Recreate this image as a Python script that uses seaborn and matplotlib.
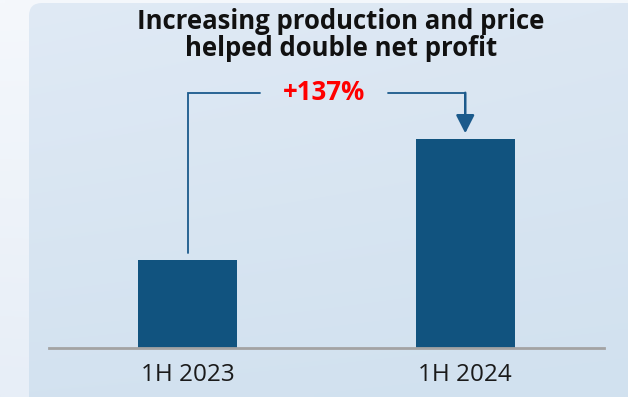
import numpy as np
import pandas as pd
import seaborn as sns
import matplotlib.pyplot as plt
from matplotlib.patches import FancyBboxPatch
from matplotlib.colors import to_rgb

# Net profit, indexed to 1H 2023 = 100
periods = ["1H 2023", "1H 2024"]
net_profit = [100, 237]
change_label = "+137%"
title = "Increasing production and price\nhelped double net profit"

BAR_COLOR = "#11537F"
LINE_COLOR = "#1B5A8C"

sns.set_theme(style="white")
plt.rcParams["font.family"] = ["Open Sans", "DejaVu Sans"]

W, H = 628, 397
fig = plt.figure(figsize=(W / 100, H / 100), dpi=100)


def gradient(c_tl, c_bl, c_tr, c_br, n=64):
    tl, bl, tr, br = (np.array(to_rgb(c)) for c in (c_tl, c_bl, c_tr, c_br))
    v = np.linspace(0, 1, n)[:, None, None]
    h = np.linspace(0, 1, n)[None, :, None]
    top = tl * (1 - h) + tr * h
    bot = bl * (1 - h) + br * h
    return top * (1 - v) + bot * v


# Background layer: soft page and rounded panel
bg = fig.add_axes([0, 0, 1, 1], zorder=0)
bg.set_xlim(0, W)
bg.set_ylim(H, 0)
bg.axis("off")
bg.imshow(gradient("#F5F8FC", "#E7EEF7", "#F3F7FB", "#E9F0F8"),
          extent=(0, W, H, 0), aspect="auto", interpolation="bilinear")
panel = FancyBboxPatch((29, 3), W, H + 20,
                       boxstyle="round,pad=0,rounding_size=13",
                       facecolor="none", edgecolor="none")
bg.add_patch(panel)
img = bg.imshow(gradient("#E0EAF5", "#D3E2F0", "#DCE7F3", "#D1E1EF"),
                extent=(0, W, H, 0), aspect="auto", interpolation="bilinear")
img.set_clip_path(panel)

# Bars
ax = fig.add_axes([49 / W, 49 / H, 555 / W, 264 / H], zorder=1)
ax.set_facecolor("none")
df = pd.DataFrame({"period": periods, "profit": net_profit})
sns.barplot(data=df, x="period", y="profit", color=BAR_COLOR, saturation=1,
            width=0.356, linewidth=0, ax=ax)
ax.set_xlim(-0.5, 1.5)
ax.set_ylim(0, 300)
ax.set_xlabel("")
ax.set_ylabel("")
ax.set_yticks([])
for s in ("left", "right", "top"):
    ax.spines[s].set_visible(False)
ax.spines["bottom"].set_color("#A3A3A3")
ax.spines["bottom"].set_linewidth(2)
ax.tick_params(axis="x", length=0, pad=10.5, labelsize=17.5, labelcolor="#1A1A1A")

# Growth bracket from the first bar to the second
v0, v1 = net_profit
top = 290
ax.plot([0, 0, 0.26], [v0 + 8, top, top], color=LINE_COLOR, lw=1.3,
        solid_joinstyle="miter", clip_on=False)
ax.plot([0.72, 1], [top, top], color=LINE_COLOR, lw=1.3, clip_on=False)
ax.annotate("", xy=(1, v1 + 7), xytext=(1, top),
            arrowprops=dict(arrowstyle="-|>,head_length=0.55,head_width=0.28",
                            mutation_scale=20, color=LINE_COLOR, lw=1.8,
                            shrinkA=0, shrinkB=0),
            annotation_clip=False)
ax.text(0.49, top, change_label, ha="center", va="center", color="#FF0000",
        fontsize=18.5, fontweight="bold", clip_on=False)

fig.text(341 / W, 1 - 35 / H, title, ha="center", va="center",
         fontsize=18.5, fontweight="bold", color="#111111", linespacing=1.04)

fig.savefig("out.png", dpi=100)
